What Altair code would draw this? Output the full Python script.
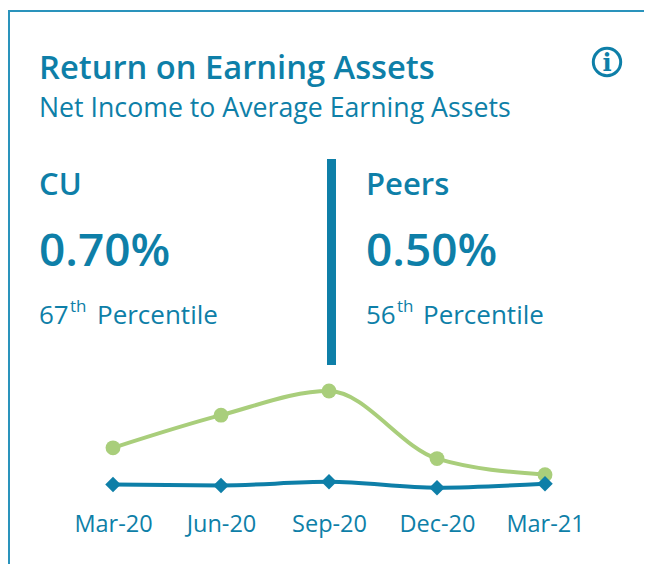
import altair as alt
import pandas as pd

periods = ["Mar-20", "Jun-20", "Sep-20", "Dec-20", "Mar-21"]
cu_values = [1.30, 2.03, 2.57, 1.06, 0.70]
peer_values = [0.48, 0.46, 0.54, 0.41, 0.50]

TEAL = "#0E7FA8"
GREEN = "#A9CE7B"
BORDER = "#2A93BC"
FONT = "Open Sans"

df = pd.DataFrame({
    "period": periods * 2,
    "value": cu_values + peer_values,
    "series": ["CU"] * 5 + ["Peers"] * 5,
})

W, H = 636, 497
x_scale = alt.Scale(type="point", domain=periods, range=[105, 537], padding=0)
y_scale = alt.Scale(domain=[-0.0444, 11.06], range=[H + 3, 3])


def label(txt, x, y, size, weight=400, font=FONT, align="left", color=TEAL):
    return alt.Chart(pd.DataFrame({"t": [txt]})).mark_text(
        align=align, baseline="alphabetic", fontSize=size, fontWeight=weight,
        font=font, color=color,
    ).encode(x=alt.value(x), y=alt.value(y), text="t:N")


def block(x1, x2, y1, y2, color):
    return alt.Chart(pd.DataFrame({"a": [0]})).mark_rect(color=color).encode(
        x=alt.value(x1), x2=alt.value(x2), y=alt.value(y1), y2=alt.value(y2)
    )


xe = alt.X("period:N", scale=x_scale, sort=periods, axis=alt.Axis(
    title=None, domain=False, ticks=False, grid=False, labelAngle=0,
    labelFontSize=23.5, labelColor=TEAL, labelFont=FONT, labelPadding=7,
))
ye = alt.Y("value:Q", scale=y_scale, axis=None)

green = df[df.series == "CU"]
blue = df[df.series == "Peers"]

layers = [
    block(0, 636, 2, 4, BORDER),
    block(0, 2, 2, 564, BORDER),
    block(319, 328, 151, 357, TEAL),
    label("Return on Earning Assets", 31, 71, 32.7, 600),
    label("Net Income to Average Earning Assets", 31, 109, 26.7),
    label("CU", 31, 187, 31, 600),
    label("Peers", 358, 187, 31, 600),
    label("0.70%", 31, 258, 46, 600),
    label("0.50%", 358, 258, 46, 600),
    label("67", 31, 316, 26),
    label("th", 62, 304, 17),
    label("Percentile", 89, 316, 26),
    label("56", 358, 316, 26),
    label("th", 389, 304, 17),
    label("Percentile", 415, 316, 26),
    alt.Chart(pd.DataFrame({"a": [0]})).mark_point(
        shape="circle", size=750, filled=False, stroke=TEAL, strokeWidth=3, opacity=1
    ).encode(x=alt.value(599), y=alt.value(54)),
    label("i", 599, 63, 24, 700, "DejaVu Serif", "center"),
    alt.Chart(green).mark_line(interpolate="monotone", color=GREEN, strokeWidth=4).encode(x=xe, y=ye),
    alt.Chart(green).mark_point(shape="circle", size=220, filled=True, color=GREEN, opacity=1).encode(x=xe, y=ye),
    alt.Chart(blue).mark_line(interpolate="monotone", color=TEAL, strokeWidth=4).encode(x=xe, y=ye),
    alt.Chart(blue).mark_point(shape="diamond", size=240, filled=True, color=TEAL, opacity=1).encode(x=xe, y=ye),
]

chart = alt.layer(*layers).properties(
    width=W, height=H, background="white",
    padding={"left": 0, "top": 0, "right": 0, "bottom": 59},
    autosize=alt.AutoSizeParams(type="none"),
).configure_view(stroke=None)

chart.save("out.html", embed_options={"renderer": "svg", "actions": False})
